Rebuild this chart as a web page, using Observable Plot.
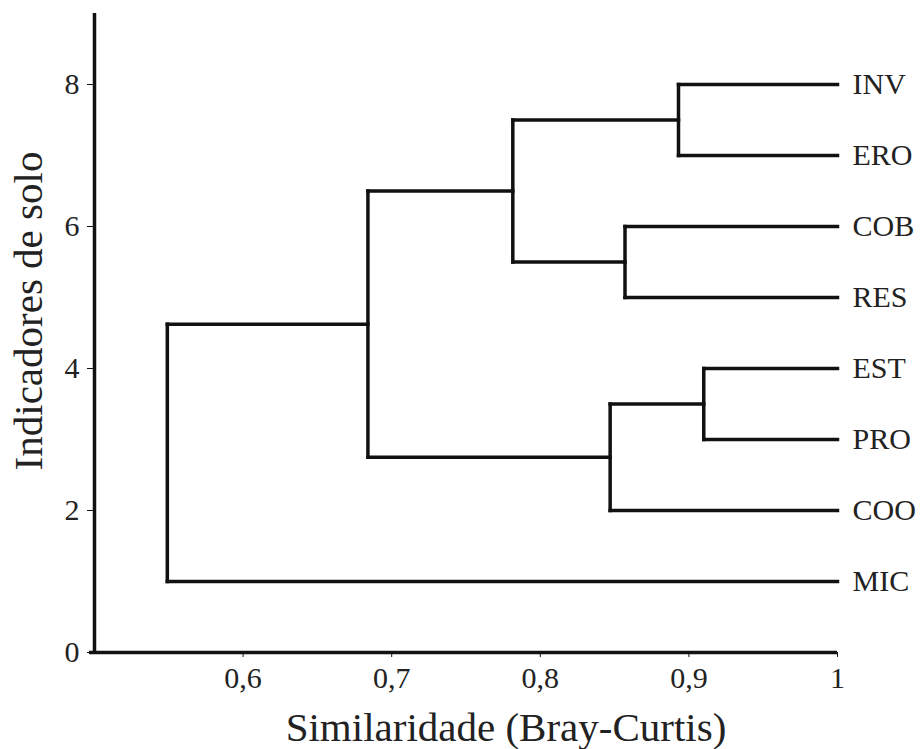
<!DOCTYPE html>
<html>
<head>
<meta charset="utf-8">
<script src="https://cdn.jsdelivr.net/npm/d3@7"></script>
<script src="https://cdn.jsdelivr.net/npm/@observablehq/plot@0.6"></script>
<style>
  html, body { margin: 0; padding: 0; background: #fff; }
  #chart { width: 921px; height: 749px; }
  #chart svg, #chart svg text { font-family: "Liberation Serif", "Times New Roman", "DejaVu Serif", serif !important; }
</style>
</head>
<body>
<div id="chart"></div>
<script>
// Leaves (soil indicators) and their vertical positions
const leaves = ["INV", "ERO", "COB", "RES", "EST", "PRO", "COO", "MIC"];
const leafY = [8, 7, 6, 5, 4, 3, 2, 1];

// Merges (clusters): left child, right child, resulting node, similarity
const mergeLeft = ["INV", "COB", "A", "EST", "D", "C", "F"];
const mergeRight = ["ERO", "RES", "B", "PRO", "COO", "E", "MIC"];
const mergeName = ["A", "B", "C", "D", "E", "F", "G"];
const mergeSimilarity = [0.893, 0.857, 0.7815, 0.910, 0.847, 0.684, 0.549];

// Axis ticks
const xTicks = [0.6, 0.7, 0.8, 0.9, 1];
const yTicks = [0, 2, 4, 6, 8];
const xTitle = "Similaridade (Bray-Curtis)";
const yTitle = "Indicadores de solo";

// Build dendrogram segments
const pos = new Map(leaves.map((n, i) => [n, {x: 1, y: leafY[i]}]));
const segs = [];
mergeName.forEach((name, i) => {
  const a = pos.get(mergeLeft[i]);
  const b = pos.get(mergeRight[i]);
  const s = mergeSimilarity[i];
  segs.push({x1: s, y1: a.y, x2: s, y2: b.y});
  segs.push({x1: s, y1: a.y, x2: a.x, y2: a.y});
  segs.push({x1: s, y1: b.y, x2: b.x, y2: b.y});
  pos.set(name, {x: s, y: (a.y + b.y) / 2});
});
const leafTable = leaves.map((n, i) => ({name: n, x: 1, y: leafY[i]}));

const font = "Liberation Serif";
const textColor = "#222";

const chart = Plot.plot({
  width: 921,
  height: 749,
  marginLeft: 94,
  marginRight: 84,
  marginTop: 13,
  marginBottom: 97,
  style: {background: "#fff", color: textColor},
  x: {domain: [0.5, 1]},
  y: {domain: [0, 9]},
  marks: [
    Plot.axisX({
      ticks: xTicks,
      tickFormat: d => String(d).replace(".", ","),
      tickSize: 5,
      tickPadding: 9,
      tickWidth: 2.5,
      fontSize: 30,
      fontFamily: font,
      stroke: "#111",
      label: null
    }),
    Plot.axisY({
      ticks: yTicks,
      tickSize: 7,
      tickPadding: 8,
      tickWidth: 2.5,
      fontSize: 30,
      fontFamily: font,
      stroke: "#111",
      label: null
    }),
    Plot.ruleY([0], {x1: 0.5, x2: 1, stroke: "#111", strokeWidth: 3.5, insetLeft: -5}),
    Plot.ruleX([0.5], {y1: 0, y2: 9, stroke: "#111", strokeWidth: 3.5}),
    Plot.link(segs, {
      x1: "x1", y1: "y1", x2: "x2", y2: "y2",
      stroke: "#111", strokeWidth: 3.5, strokeLinecap: "square"
    }),
    Plot.text(leafTable, {
      x: "x", y: "y", text: "name",
      textAnchor: "start", lineAnchor: "middle", dx: 15,
      fontSize: 30, fontFamily: font, fill: textColor
    }),
    Plot.text([xTitle], {
      frameAnchor: "bottom", text: d => d,
      textAnchor: "middle", lineAnchor: "middle",
      dx: 40, dy: 75, fontSize: 41, fontFamily: font, fill: textColor
    }),
    Plot.text([yTitle], {
      frameAnchor: "left", text: d => d, rotate: -90,
      textAnchor: "middle", lineAnchor: "middle",
      dx: -66, dy: -22, fontSize: 41, fontFamily: font, fill: textColor
    })
  ]
});
document.getElementById("chart").appendChild(chart);
</script>
</body>
</html>
